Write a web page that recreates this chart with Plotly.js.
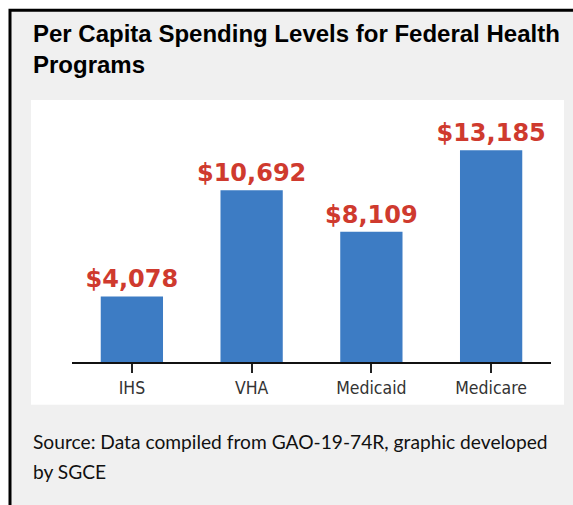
<!DOCTYPE html>
<html>
<head>
<meta charset="utf-8">
<script src="https://cdn.plot.ly/plotly-3.0.1.min.js"></script>
<style>html,body{margin:0;padding:0;background:#fff;}#chart{width:573px;height:505px;}</style>
</head>
<body>
<div id="chart"></div>
<script>
// Data
const categories = ['IHS', 'VHA', 'Medicaid', 'Medicare'];
const spending = [4078, 10692, 8109, 13185];
const valueLabels = spending.map(v => '$' + v.toLocaleString('en-US'));
const titleText = 'Per Capita Spending Levels for Federal Health<br>Programs';
const sourceLine1 = 'Source: Data compiled from GAO-19-74R, graphic developed';
const sourceLine2 = 'by SGCE';

// Layout geometry (pixels)
const W = 573, H = 505;
const L = 72, R = 22, T = 121, B = 142.7;
const plotW = W - L - R, plotH = H - T - B;
const px2x = p => (p - L) / plotW;
const px2y = p => (H - B - p) / plotH;

const trace = {
  type: 'bar',
  x: categories,
  y: spending,
  text: valueLabels,
  textposition: 'outside',
  constraintext: 'none',
  cliponaxis: false,
  textfont: {family: 'DejaVu Sans', size: 24, color: '#cf3a2e', weight: 'bold'},
  marker: {color: '#3d7cc4'},
  hoverinfo: 'none'
};

const layout = {
  width: W, height: H,
  margin: {l: L, r: R, t: T, b: B, pad: 0},
  paper_bgcolor: '#ffffff',
  plot_bgcolor: 'rgba(0,0,0,0)',
  showlegend: false,
  bargap: 0.48,
  xaxis: {
    type: 'category',
    range: [-0.5, 3.5],
    showline: true, linecolor: '#111', linewidth: 2,
    ticks: 'outside', ticklen: 9, tickwidth: 2, tickcolor: '#222',
    tickfont: {family: 'Liberation Sans Narrow, DejaVu Sans Condensed, Roboto Condensed, Roboto', size: 17.5, color: '#333333'},
    ticklabelstandoff: 0,
    showgrid: false, zeroline: false, fixedrange: true
  },
  yaxis: {
    range: [0, 15000], visible: false, showgrid: false, zeroline: false, fixedrange: true
  },
  shapes: [
    {type: 'rect', xref: 'paper', yref: 'paper', layer: 'below',
     x0: px2x(10), x1: px2x(590), y0: px2y(10), y1: px2y(520),
     fillcolor: '#f0f0f0', line: {color: '#000', width: 3}},
    {type: 'rect', xref: 'paper', yref: 'paper', layer: 'below',
     x0: px2x(31), x1: px2x(564), y0: px2y(100), y1: px2y(405),
     fillcolor: '#ffffff', line: {width: 0}}
  ],
  annotations: [
    {xref: 'paper', yref: 'paper', x: px2x(31), y: px2y(18), xanchor: 'left', yanchor: 'top',
     align: 'left', showarrow: false, text: '<b>' + titleText + '</b>',
     font: {family: 'Liberation Sans, Arial', size: 24, color: '#000'}},
    {xref: 'paper', yref: 'paper', x: px2x(31), y: px2y(442), xanchor: 'left', yanchor: 'middle',
     align: 'left', showarrow: false, text: sourceLine1,
     font: {family: 'Lato, Open Sans', size: 19.2, color: '#111'}},
    {xref: 'paper', yref: 'paper', x: px2x(31), y: px2y(472), xanchor: 'left', yanchor: 'middle',
     align: 'left', showarrow: false, text: sourceLine2,
     font: {family: 'Lato, Open Sans', size: 19.2, color: '#111'}}
  ]
};

Plotly.newPlot('chart', [trace], layout, {displayModeBar: false, staticPlot: true});
</script>
</body>
</html>
